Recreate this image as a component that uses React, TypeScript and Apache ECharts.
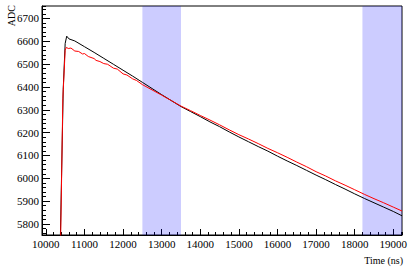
import React, { useEffect, useRef } from "react";
import * as echarts from "echarts";

// Tick spacing / labels
const xMajorStep = 1000;
const xMinorStep = 200;
const yMajorStep = 100;
const yMinorStep = 20;
const xTickLabels = [10000, 11000, 12000, 13000, 14000, 15000, 16000, 17000, 18000, 19000];
const yTickLabels = [5800, 5900, 6000, 6100, 6200, 6300, 6400, 6500, 6600, 6700];

// Shaded time windows (ns)
const bands = [
  [12500, 13500],
  [18200, 19225],
];

// Black waveform [time ns, ADC]
const blackData = [
  [9900, 5600], [10360, 5600], [10450, 6390], [10500, 6590], [10540, 6622], [10600, 6610],
  [10750, 6601], [11000, 6576], [11250, 6551], [11500, 6525], [11750, 6499], [12000, 6473],
  [12250, 6447], [12500, 6420], [12750, 6393], [13000, 6366], [13250, 6340], [13500, 6314],
  [13750, 6292], [14000, 6270], [14250, 6247], [14500, 6226], [14750, 6203], [15000, 6181],
  [15250, 6160], [15500, 6139], [15750, 6119], [16000, 6097], [16250, 6076], [16500, 6056],
  [16750, 6035], [17000, 6014], [17250, 5994], [17500, 5973], [17750, 5953], [18000, 5932],
  [18250, 5912], [18500, 5893], [18750, 5874], [19000, 5855], [19225, 5836],
];

// Red waveform [time ns, ADC]
const redData = [
  [9900, 5600], [10370, 5600], [10440, 6350], [10500, 6560], [10530, 6573], [10580, 6568],
  [10650, 6570], [10750, 6557], [10850, 6555], [10950, 6544], [11000, 6546], [11100, 6533],
  [11250, 6524], [11300, 6516], [11400, 6511], [11500, 6502], [11600, 6499], [11750, 6482],
  [11850, 6478], [12000, 6457], [12100, 6452], [12250, 6435], [12350, 6428], [12500, 6410],
  [12750, 6387], [13000, 6364], [13250, 6340], [13500, 6316], [13750, 6296], [14000, 6275],
  [14250, 6255], [14500, 6234], [14750, 6212], [15000, 6191], [15250, 6172], [15500, 6152],
  [15750, 6131], [16000, 6112], [16250, 6092], [16500, 6071], [16750, 6051], [17000, 6029],
  [17250, 6010], [17500, 5989], [17750, 5970], [18000, 5950], [18250, 5930], [18500, 5911],
  [18750, 5893], [19000, 5874], [19225, 5857],
];

const X_MIN = 9900;
const X_MAX = 19225;
const Y_MIN = 5752;
const Y_MAX = 6754;

const FONT = "Liberation Serif";

export default function App() {
  const ref = useRef<HTMLDivElement>(null);

  useEffect(() => {
    if (!ref.current) return;
    document.body.style.margin = "0";
    const chart = echarts.init(ref.current, undefined, { renderer: "svg" });
    const tickStyle = { color: "#000", width: 1 };
    chart.setOption({
      animation: false,
      grid: { left: 42, right: 13, top: 6, bottom: 33, show: true, borderColor: "#000", borderWidth: 1 },
      xAxis: [
        {
          type: "value", min: X_MIN, max: X_MAX, minInterval: xMajorStep, maxInterval: xMajorStep,
          position: "bottom", splitLine: { show: false },
          axisLine: { show: true, lineStyle: { ...tickStyle } },
          axisTick: { show: true, inside: true, length: 6, lineStyle: { ...tickStyle } },
          axisLabel: {
            margin: 3, color: "#000", fontFamily: FONT, fontSize: 11,
            showMinLabel: false, showMaxLabel: false,
            formatter: (v: number) => (xTickLabels.includes(v) ? String(v) : ""),
          },
        },
        {
          type: "value", min: X_MIN, max: X_MAX, minInterval: xMinorStep, maxInterval: xMinorStep,
          position: "bottom", splitLine: { show: false }, axisLine: { show: false },
          axisTick: { show: true, inside: true, length: 3, lineStyle: { ...tickStyle } },
          axisLabel: { show: false },
        },
      ],
      yAxis: [
        {
          type: "value", min: Y_MIN, max: Y_MAX, minInterval: yMajorStep, maxInterval: yMajorStep,
          position: "left", splitLine: { show: false },
          axisLine: { show: true, lineStyle: { ...tickStyle } },
          axisTick: { show: true, inside: true, length: 8, lineStyle: { ...tickStyle } },
          axisLabel: {
            margin: 3, color: "#000", fontFamily: FONT, fontSize: 11,
            showMinLabel: false, showMaxLabel: false,
            formatter: (v: number) => (yTickLabels.includes(v) ? String(v) : ""),
          },
        },
        {
          type: "value", min: Y_MIN, max: Y_MAX, minInterval: yMinorStep, maxInterval: yMinorStep,
          position: "left", splitLine: { show: false }, axisLine: { show: false },
          axisTick: { show: true, inside: true, length: 4, lineStyle: { ...tickStyle } },
          axisLabel: { show: false },
        },
      ],
      series: [
        { type: "line", data: blackData, symbol: "none", clip: true, lineStyle: { color: "#000", width: 1 }, z: 2 },
        { type: "line", data: redData, symbol: "none", clip: true, lineStyle: { color: "#ff0000", width: 1 }, z: 3 },
        {
          type: "line", data: [], symbol: "none", z: 10,
          markArea: {
            silent: true,
            itemStyle: { color: "rgba(0,0,255,0.2)" },
            data: bands.map(([a, b]) => [{ xAxis: a }, { xAxis: b }]),
          },
        },
      ],
      graphic: [
        {
          type: "text", x: 11, y: 5, rotation: Math.PI / 2,
          style: { text: "ADC", fill: "#000", fontFamily: FONT, fontSize: 10, align: "right", verticalAlign: "middle" },
        },
        {
          type: "text", x: 403, y: 260,
          style: { text: "Time (ns)", fill: "#000", fontFamily: FONT, fontSize: 10, align: "right", verticalAlign: "middle" },
        },
      ],
    });
    return () => chart.dispose();
  }, []);

  return <div ref={ref} style={{ width: 415, height: 268 }} />;
}
